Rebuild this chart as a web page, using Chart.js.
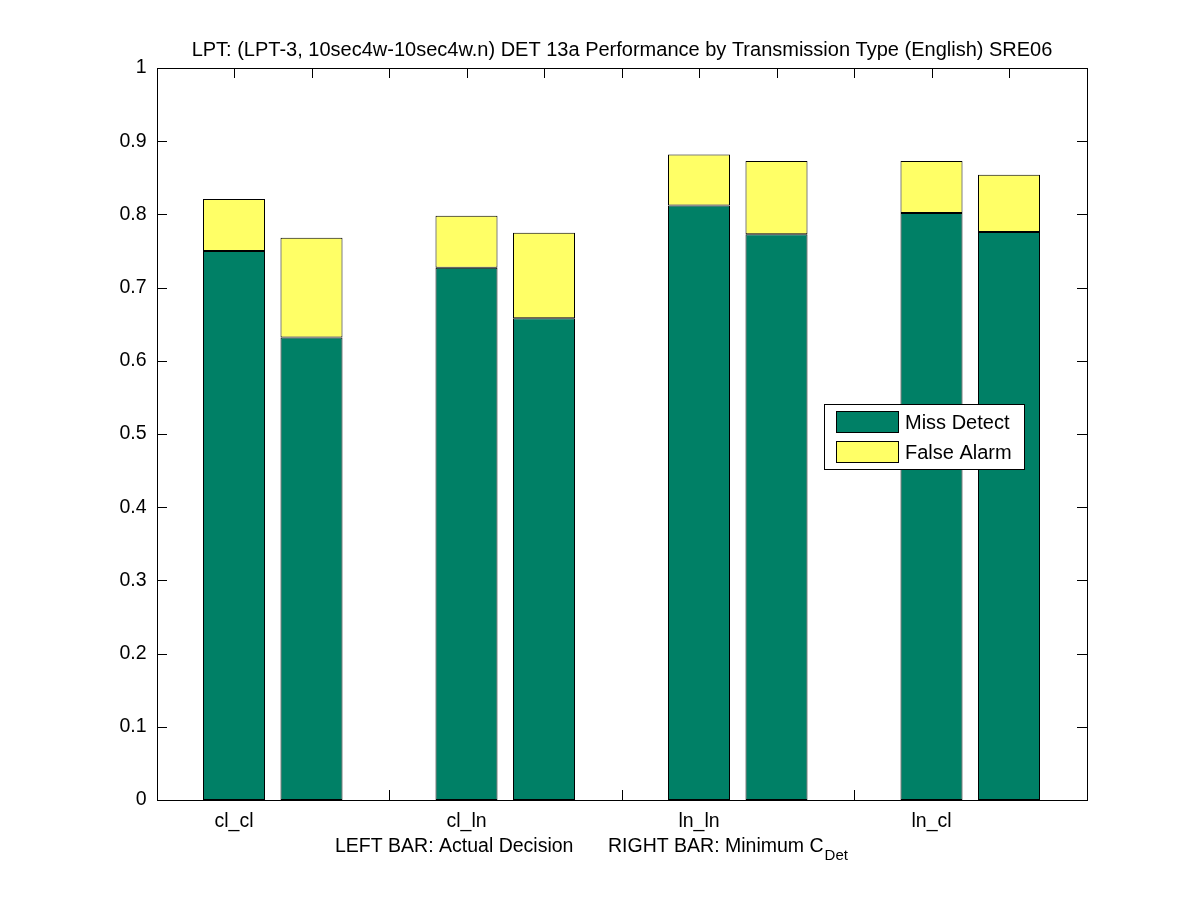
<!DOCTYPE html>
<html>
<head>
<meta charset="utf-8">
<script src="https://cdn.jsdelivr.net/npm/chart.js@4/dist/chart.umd.min.js"></script>
<style>
  body { margin: 0; background: #fff; }
  #wrap { width: 1201px; height: 900px; }
</style>
</head>
<body>
<div id="wrap"><canvas id="detChart" width="1201" height="900"></canvas></div>
<script>
// data
const categories = ['cl_cl', 'cl_ln', 'ln_ln', 'ln_cl'];
const categoryTicks = [1, 4, 7, 10];
const barPositions = [1, 2, 4, 5, 7, 8, 10, 11];
const missDetect = [0.750, 0.632, 0.727, 0.658, 0.812, 0.773, 0.802, 0.776];
const falseAlarm = [0.071, 0.136, 0.071, 0.117, 0.070, 0.100, 0.071, 0.078];
const yMin = 0, yMax = 1, yStep = 0.1;
const xMin = 0, xMax = 12;

const titleText = 'LPT: (LPT-3, 10sec4w-10sec4w.n) DET 13a Performance by Transmission Type (English) SRE06';
const FONT = '"Liberation Sans", Arial, Helvetica, sans-serif';

const green = 'rgb(0,128,102)';
const yellow = 'rgb(255,255,102)';

// frame, inward ticks, title, xlabel and legend (matlab look)
const matlabAxes = {
    id: 'matlabAxes',
    beforeDatasetsDraw(chart) {
        const { ctx, chartArea: a, scales: { x, y } } = chart;
        const L = Math.round(a.left), R = Math.round(a.right);
        const T = Math.round(a.top), B = Math.round(a.bottom);
        ctx.save();
        ctx.strokeStyle = '#000';
        ctx.lineWidth = 1;
        ctx.beginPath();
        y.ticks.forEach(t => {
            const py = Math.round(y.getPixelForValue(t.value)) + 0.5;
            ctx.moveTo(L, py); ctx.lineTo(L + 10, py);
            ctx.moveTo(R, py); ctx.lineTo(R - 10, py);
        });
        x.ticks.forEach(t => {
            if (t.value <= xMin || t.value >= xMax) return;
            const px = Math.round(x.getPixelForValue(t.value)) + 0.5;
            ctx.moveTo(px, B); ctx.lineTo(px, B - 10);
            ctx.moveTo(px, T); ctx.lineTo(px, T + 10);
        });
        ctx.stroke();
        ctx.restore();
    },
    afterDatasetsDraw(chart) {
        const { ctx, chartArea: a } = chart;
        const L = Math.round(a.left), R = Math.round(a.right);
        const T = Math.round(a.top), B = Math.round(a.bottom);
        ctx.save();
        ctx.strokeStyle = '#000';
        ctx.lineWidth = 1;
        ctx.strokeRect(L + 0.5, T + 0.5, R - L, B - T);

        const cx = (L + R) / 2;
        ctx.fillStyle = '#000';
        ctx.textBaseline = 'alphabetic';

        // title
        ctx.font = '20px ' + FONT;
        ctx.textAlign = 'center';
        ctx.fillText(titleText, cx, T - 12);

        // x label with subscript
        ctx.font = '19.5px ' + FONT;
        ctx.textAlign = 'left';
        ctx.fillText('LEFT BAR: Actual Decision', cx - 287, B + 52);
        const right = 'RIGHT BAR: Minimum C';
        ctx.fillText(right, cx - 14, B + 52);
        const w = ctx.measureText(right).width;
        ctx.font = '15px ' + FONT;
        ctx.fillText('Det', cx - 14 + w + 1, B + 60);

        // legend box
        const lx = R - 263, ly = T + 336, lw = 200, lh = 65;
        ctx.fillStyle = '#fff';
        ctx.fillRect(lx, ly, lw, lh);
        ctx.strokeRect(lx + 0.5, ly + 0.5, lw, lh);
        const entries = [['Miss Detect', green], ['False Alarm', yellow]];
        ctx.font = '20px ' + FONT;
        ctx.textBaseline = 'middle';
        entries.forEach((e, i) => {
            const ey = ly + 7 + i * 30;
            ctx.fillStyle = e[1];
            ctx.fillRect(lx + 12, ey, 62, 21);
            ctx.strokeRect(lx + 12.5, ey + 0.5, 62, 21);
            ctx.fillStyle = '#000';
            ctx.fillText(e[0], lx + 81, ey + 12);
        });
        ctx.restore();
    }
};

const ctx = document.getElementById('detChart').getContext('2d');
new Chart(ctx, {
    type: 'bar',
    data: {
        datasets: [
            {
                label: 'Miss Detect',
                data: barPositions.map((p, i) => ({ x: p, y: missDetect[i] })),
                backgroundColor: green,
                borderColor: '#000',
                borderWidth: 1,
                borderSkipped: false
            },
            {
                label: 'False Alarm',
                data: barPositions.map((p, i) => ({ x: p, y: falseAlarm[i] })),
                backgroundColor: yellow,
                borderColor: '#000',
                borderWidth: 1,
                borderSkipped: false
            }
        ]
    },
    options: {
        responsive: false,
        animation: false,
        barPercentage: 1.0,
        categoryPercentage: 0.8,
        layout: { padding: { left: 99.5, right: 114.5, top: 68, bottom: 60 } },
        plugins: {
            legend: { display: false },
            tooltip: { enabled: false },
            title: { display: false }
        },
        scales: {
            x: {
                type: 'linear',
                stacked: true,
                min: xMin,
                max: xMax,
                offset: false,
                grid: { display: false, drawTicks: false, offset: false },
                border: { display: false },
                afterFit: s => { s.height = 40; },
                ticks: {
                    stepSize: 1,
                    autoSkip: false,
                    maxRotation: 0,
                    padding: 10,
                    color: '#000',
                    font: { family: FONT, size: 19.5 },
                    callback: v => {
                        const k = categoryTicks.indexOf(v);
                        return k >= 0 ? categories[k] : '';
                    }
                }
            },
            y: {
                stacked: true,
                min: yMin,
                max: yMax,
                grid: { display: false, drawTicks: false },
                border: { display: false },
                afterFit: s => { s.width = 57; },
                ticks: {
                    stepSize: yStep,
                    padding: 10,
                    color: '#000',
                    font: { family: FONT, size: 19.5 },
                    callback: v => String(Number(v.toFixed(1)))
                }
            }
        }
    },
    plugins: [matlabAxes]
});
</script>
</body>
</html>
